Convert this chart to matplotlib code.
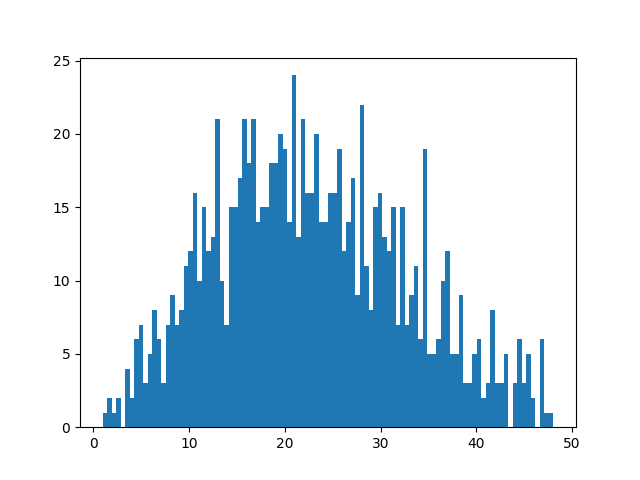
import numpy as np
import matplotlib
matplotlib.use('Agg')
import matplotlib.pyplot as plt

# histogram counts (100 bins)
counts = [1, 2, 1, 2, 0, 4, 2, 6, 7, 3,
          5, 8, 6, 3, 7, 9, 7, 8, 11, 12,
          16, 10, 15, 12, 13, 21, 10, 7, 15, 15,
          17, 21, 18, 21, 14, 15, 15, 18, 18, 20,
          19, 14, 24, 13, 21, 16, 16, 20, 14, 14,
          16, 16, 19, 12, 14, 17, 9, 22, 11, 8,
          15, 16, 13, 12, 15, 7, 15, 7, 9, 11,
          6, 19, 5, 5, 6, 10, 12, 5, 5, 9,
          3, 3, 5, 6, 2, 3, 8, 3, 3, 5,
          0, 3, 6, 3, 5, 2, 0, 6, 1, 1]
x_min = 0.95
x_max = 48.05

edges = np.linspace(x_min, x_max, len(counts) + 1)
centers = (edges[:-1] + edges[1:]) / 2

fig = plt.figure(figsize=(6.4, 4.8), dpi=100)
plt.hist(centers, bins=edges, weights=counts)
plt.savefig('out.png')
plt.close()
